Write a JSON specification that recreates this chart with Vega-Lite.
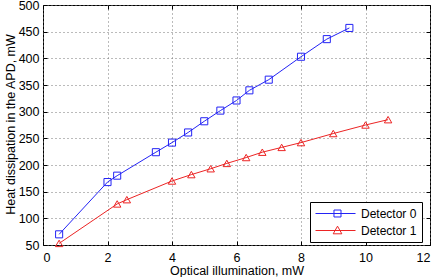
{
  "$schema": "https://vega.github.io/schema/vega-lite/v6.json",
  "autosize": "none",
  "width": 387,
  "height": 240,
  "padding": {"left": 43, "top": 5, "right": 6, "bottom": 32},
  "background": "white",
  "config": {
    "font": "Liberation Sans",
    "view": {"stroke": "black", "strokeWidth": 1},
    "axis": {
      "labelFont": "Liberation Sans",
      "titleFont": "Liberation Sans",
      "labelFontSize": 12.5,
      "titleFontSize": 12.5,
      "titleFontWeight": "normal",
      "labelColor": "black",
      "titleColor": "black",
      "tickColor": "black",
      "domain": false,
      "tickSize": -4,
      "grid": false
    },
    "legend": {
      "labelFont": "Liberation Sans",
      "labelFontSize": 12,
      "labelColor": "black"
    }
  },
  "data": {
    "values": [
      {"x": 0.5, "y": 70, "detector": "Detector 0"},
      {"x": 2.0, "y": 168, "detector": "Detector 0"},
      {"x": 2.3, "y": 180, "detector": "Detector 0"},
      {"x": 3.5, "y": 224, "detector": "Detector 0"},
      {"x": 4.0, "y": 242, "detector": "Detector 0"},
      {"x": 4.5, "y": 261, "detector": "Detector 0"},
      {"x": 5.0, "y": 282, "detector": "Detector 0"},
      {"x": 5.5, "y": 302, "detector": "Detector 0"},
      {"x": 6.0, "y": 321, "detector": "Detector 0"},
      {"x": 6.4, "y": 340, "detector": "Detector 0"},
      {"x": 7.0, "y": 360, "detector": "Detector 0"},
      {"x": 8.0, "y": 403, "detector": "Detector 0"},
      {"x": 8.8, "y": 436, "detector": "Detector 0"},
      {"x": 9.5, "y": 457, "detector": "Detector 0"},
      {"x": 0.5, "y": 53, "detector": "Detector 1"},
      {"x": 2.3, "y": 127, "detector": "Detector 1"},
      {"x": 2.6, "y": 135, "detector": "Detector 1"},
      {"x": 4.0, "y": 170, "detector": "Detector 1"},
      {"x": 4.6, "y": 182, "detector": "Detector 1"},
      {"x": 5.2, "y": 193, "detector": "Detector 1"},
      {"x": 5.7, "y": 203, "detector": "Detector 1"},
      {"x": 6.3, "y": 214, "detector": "Detector 1"},
      {"x": 6.8, "y": 224, "detector": "Detector 1"},
      {"x": 7.4, "y": 233, "detector": "Detector 1"},
      {"x": 8.0, "y": 242, "detector": "Detector 1"},
      {"x": 9.0, "y": 259, "detector": "Detector 1"},
      {"x": 10.0, "y": 275, "detector": "Detector 1"},
      {"x": 10.7, "y": 285, "detector": "Detector 1"}
    ]
  },
  "resolve": {"axis": {"x": "independent", "y": "independent"}},
  "layer": [
    {
      "mark": {"type": "line", "strokeWidth": 1, "clip": false},
      "encoding": {
        "x": {
          "field": "x", "type": "quantitative",
          "scale": {"domain": [0, 12], "nice": false},
          "axis": {
            "orient": "bottom",
            "values": [0, 2, 4, 6, 8, 10, 12],
            "title": "Optical illumination, mW",
            "grid": true, "gridDash": [1, 3], "gridColor": "#777", "gridWidth": 1,
            "labelPadding": 10,
            "titleBaseline": "alphabetic", "titleY": 29.5
          }
        },
        "y": {
          "field": "y", "type": "quantitative",
          "scale": {"domain": [50, 500], "nice": false},
          "axis": {
            "orient": "left",
            "values": [50, 100, 150, 200, 250, 300, 350, 400, 450, 500],
            "title": "Heat dissipation in the APD, mW",
            "grid": true, "gridDash": [1, 3], "gridColor": "#777", "gridWidth": 1,
            "labelPadding": 8,
            "titleBaseline": "alphabetic", "titleX": -29, "titleY": 119
          }
        },
        "color": {
          "field": "detector", "type": "nominal",
          "scale": {"domain": ["Detector 0", "Detector 1"], "range": ["#2323f5", "#ec2424"]},
          "legend": {
            "title": null,
            "orient": "none",
            "legendX": 267,
            "legendY": 197,
            "padding": 5,
            "strokeColor": "black",
            "fillColor": "white",
            "symbolSize": 144,
            "symbolStrokeWidth": 1,
            "labelOffset": 33,
            "rowPadding": 4,
            "labelExpr": "datum.label + '\u00a0\u00a0\u00a0\u00a0\u00a0'",
            "encode": {
              "symbols": {
                "update": {
                  "shape": {"signal": "datum.value == 'Detector 0' ? 'M-1,0H5.67M2.08,-0.58H3.25V0.58H2.08Z' : 'M-1,0H5.67M1.95,0.55L2.67,-0.72L3.39,0.55Z'"},
                  "fill": {"value": "transparent"},
                  "strokeWidth": {"value": 1}
                }
              }
            }
          }
        }
      }
    },
    {
      "transform": [{"filter": "datum.detector == 'Detector 0'"}],
      "mark": {"type": "point", "shape": "square", "filled": false, "strokeWidth": 1, "size": 50, "opacity": 1},
      "encoding": {
        "x": {
          "field": "x", "type": "quantitative",
          "scale": {"domain": [0, 12], "nice": false},
          "axis": {"orient": "top", "values": [0, 2, 4, 6, 8, 10, 12], "labels": false, "title": null}
        },
        "y": {
          "field": "y", "type": "quantitative",
          "scale": {"domain": [50, 500], "nice": false},
          "axis": {"orient": "right", "values": [50, 100, 150, 200, 250, 300, 350, 400, 450, 500], "labels": false, "title": null}
        },
        "color": {"field": "detector", "type": "nominal"}
      }
    },
    {
      "transform": [{"filter": "datum.detector == 'Detector 1'"}],
      "mark": {"type": "point", "shape": "triangle-up", "filled": false, "strokeWidth": 1, "size": 55, "opacity": 1},
      "encoding": {
        "x": {"field": "x", "type": "quantitative", "axis": null},
        "y": {"field": "y", "type": "quantitative", "axis": null},
        "color": {"field": "detector", "type": "nominal"}
      }
    }
  ]
}
